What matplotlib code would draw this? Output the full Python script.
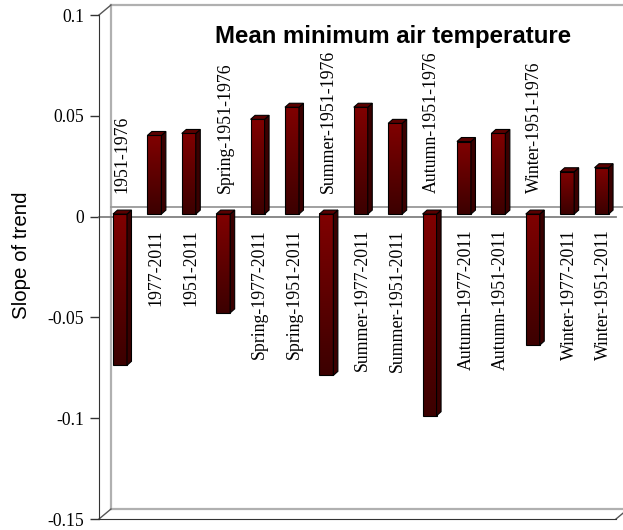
import numpy as np
import matplotlib
matplotlib.use("Agg")
import matplotlib.pyplot as plt
from matplotlib.patches import Polygon
from matplotlib.colors import LinearSegmentedColormap

categories = ["1951-1976", "1977-2011", "1951-2011",
              "Spring-1951-1976", "Spring-1977-2011", "Spring-1951-2011",
              "Summer-1951-1976", "Summer-1977-2011", "Summer-1951-2011",
              "Autumn-1951-1976", "Autumn-1977-2011", "Autumn-1951-2011",
              "Winter-1951-1976", "Winter-1977-2011", "Winter-1951-2011"]
values = [-0.075, 0.039, 0.040,
          -0.049, 0.047, 0.053,
          -0.080, 0.053, 0.045,
          -0.100, 0.036, 0.040,
          -0.065, 0.021, 0.023]
yticks = [-0.15, -0.1, -0.05, 0, 0.05, 0.1]
yticklabels = ["-0.15", "-0.1", "-0.05", "0", "0.05", "0.1"]

W, H = 623, 530
fig = plt.figure(figsize=(W / 100, H / 100), dpi=100)
L, R, T, B = 99, 616, 15, 519
ax = fig.add_axes([L / W, 1 - B / H, (R - L) / W, (B - T) / H])
xmin, xmax = -0.61, 14.42
ymin, ymax = -0.15, 0.1
ax.set_xlim(xmin, xmax)
ax.set_ylim(ymin, ymax)
pxx = (R - L) / (xmax - xmin)   # px per x unit
pxy = (B - T) / (ymax - ymin)   # px per y unit

def dx(p):
    return p / pxx

def dy(p):
    return p / pxy

serif = "Liberation Serif"
sans = "Liberation Sans"

# back plane (3D frame)
DX, DY = dx(12), dy(10)
back_col = "#b0b0b0"
kw = dict(color=back_col, lw=1.6, clip_on=False, zorder=1)
ax.plot([xmin + DX, xmin + DX], [ymin + DY, ymax + DY], **kw)
ax.plot([xmin + DX, xmax + DX], [ymax + DY, ymax + DY], **kw)
ax.plot([xmin + DX, xmax + DX], [ymin + DY, ymin + DY], **kw)
ax.plot([xmin + DX, xmax + DX], [DY, DY], color="#999999", lw=1.3, clip_on=False, zorder=1)
# diagonals
dkw = dict(color="#555555", lw=1.0, clip_on=False, zorder=1)
ax.plot([xmin, xmin + DX], [ymax, ymax + DY], **dkw)
ax.plot([xmin, xmin + DX], [ymin, ymin + DY], **dkw)
ax.plot([xmax, xmax + DX], [ymin, ymin + DY], **dkw)
# front zero line
ax.plot([xmin, xmax], [0, 0], color="#808080", lw=1.3, clip_on=False, zorder=2)

# bars
front_cmap = LinearSegmentedColormap.from_list("f", ["#3c0000", "#800000"])
bw = dx(14)
sd_x, sd_y = dx(4.5), dy(4)
base = dy(2.5)
grad = np.linspace(0, 1, 64).reshape(-1, 1)
for i, v in enumerate(values):
    x0, x1 = i - bw / 2, i + bw / 2
    lo, hi = (base + v, base) if v < 0 else (base, base + v)
    ax.imshow(grad, extent=[x0, x1, lo, hi], origin="lower", cmap=front_cmap,
              aspect="auto", zorder=3, interpolation="bilinear")
    ax.add_patch(Polygon([[x0, lo], [x1, lo], [x1, hi], [x0, hi]], closed=True,
                         fill=False, ec="black", lw=0.8, zorder=4))
    side = Polygon([[x1, lo], [x1 + sd_x, lo + sd_y], [x1 + sd_x, hi + sd_y], [x1, hi]],
                   closed=True, fc="#3a0000", ec="black", lw=0.8, zorder=4)
    ax.add_patch(side)
    top = Polygon([[x0, hi], [x1, hi], [x1 + sd_x, hi + sd_y], [x0 + sd_x, hi + sd_y]],
                  closed=True, fc="#5a0000", ec="black", lw=0.8, zorder=4)
    ax.add_patch(top)
    if v >= 0:
        ax.text(i + dx(2), dy(-12.5), categories[i], rotation=90, ha="center", va="top",
                fontsize=12.8, family=serif, zorder=5)
    else:
        ax.text(i + dx(2), dy(23.5), categories[i], rotation=90, ha="center", va="bottom",
                fontsize=12.8, family=serif, zorder=5)

ax.set_xlim(xmin, xmax)
ax.set_ylim(ymin, ymax)
ax.set_xticks([])
ax.set_yticks(yticks)
ax.set_yticklabels(yticklabels, family=serif, fontsize=12.7)
ax.tick_params(axis="y", length=6.5, width=1.0, pad=4, color="#333333")
for s in ["top", "right"]:
    ax.spines[s].set_visible(False)
ax.spines["left"].set_color("#333333")
ax.spines["bottom"].set_color("#333333")
ax.patch.set_alpha(0)

fig.text(393 / W, 1 - 36 / H, "Mean minimum air temperature", ha="center", va="center",
         fontsize=17.3, fontweight="bold", family=sans)
fig.text(22 / W, 1 - 255 / H, "Slope of trend", rotation=90, ha="center", va="center",
         fontsize=14.8, family=sans)

fig.savefig("out.png", dpi=100)
